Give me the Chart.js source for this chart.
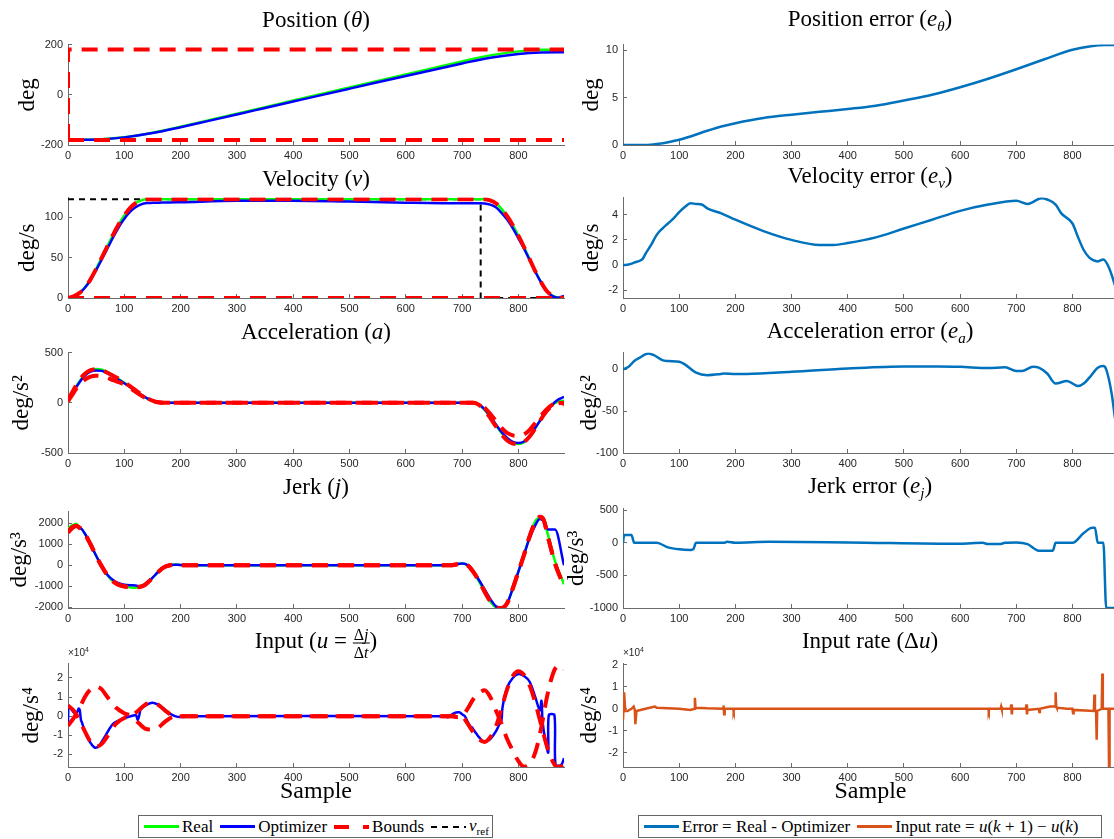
<!DOCTYPE html>
<html>
<head>
<meta charset="utf-8">
<script src="https://cdn.jsdelivr.net/npm/chart.js@4.4.0/dist/chart.umd.min.js"></script>
<style>
body { margin: 0; background: #fff; }
#fig { position: relative; width: 1114px; height: 839px; overflow: hidden; }
#fig canvas { position: absolute; }
.ttl { position: absolute; z-index: 2; transform: translate(-50%, -50%); white-space: nowrap;
       font: 23px "Liberation Serif", serif; color: #000; }
.ttl sub { font-size: 15px; vertical-align: -5px; }
.frac { display: inline-block; vertical-align: middle; text-align: center; font-size: 16px; line-height: 17px; }
.frac span { display: block; padding: 0 1px; }
.frac span:first-child { border-bottom: 1px solid #000; }
.exp { position: absolute; z-index: 2; font: 10px "Liberation Sans", sans-serif; color: #262626; }
.exp sup { font-size: 7px; }
.leg { position: absolute; z-index: 2; height: 23px; border: 1px solid #666; background: #fff; box-sizing: border-box;
       display: flex; align-items: center; padding: 0 0 0 5px;
       font: 17px "Liberation Serif", serif; white-space: nowrap; }
.leg .it { display: flex; align-items: center; margin-right: 7px; }
.leg .s { display: inline-block; width: 35px; height: 3px; margin-right: 3px; }
.leg sub { font-size: 11px; }
</style>
</head>
<body>
<div id="fig"></div>
<script>
// x axis (sample index)
const sampleTicks = [0, 100, 200, 300, 400, 500, 600, 700, 800];
const sampleMax = 881;

// ---------- Position (deg)
const posTicks = [-200, 0, 200];
const posReal = [[0,-180],[30,-179.5],[60,-177],[100,-169],[150,-151],[200,-127],[250,-101],[300,-75],[350,-49],[400,-23],[450,3],[500,29],[550,55],[600,81],[650,107],[700,133],[750,157],[800,173],[840,179],[881,180]];
const posOpt = [[0,-180],[30,-179.5],[60,-177.1],[100,-169.6],[150,-152.6],[200,-129.3],[250,-103.9],[300,-78.3],[350,-52.6],[400,-26.9],[450,-1.2],[500,24.3],[550,49.7],[600,74.9],[650,100],[700,125],[750,147.9],[800,162.9],[840,168.6],[881,169.5]];
const posUpper = [[0,-180],[0,180],[881,180]];
const posLower = [[0,-180],[881,-180]];

// ---------- Velocity (deg/s)
const velTicks = [0, 50, 100];
const velReal = [[0,0],[10,2],[20,6],[30,13],[40,23],[50,36],[60,50],[70,64],[80,78],[90,91],[100,102],[110,111],[120,117],[130,120.5],[140,122],[150,122],[160,122],[180,122],[200,122],[300,122],[400,122],[500,122],[600,122],[700,122],[720,122],[730,122],[740,122],[750,120.5],[760,117],[770,110],[780,101],[790,90],[800,77],[810,63],[820,48],[830,33],[840,20],[850,9],[860,3],[870,0.5],[881,0]];
const velOpt = [[0,0],[10,1.95],[20,5.8],[30,12.65],[40,22.1],[50,34.4],[60,47.6],[70,61.1],[80,74.7],[90,87.3],[100,97.8],[110,106.4],[120,112.1],[130,115.65],[140,117.2],[150,117.5],[160,117.7],[180,118.1],[200,118.4],[300,120],[400,120.25],[500,119.1],[600,117.7],[700,116.9],[720,117.15],[730,116.9],[740,116.7],[750,115.3],[760,112],[770,105.2],[780,96.9],[790,86.3],[800,73.7],[810,60.8],[820,46.8],[830,32.4],[840,19.65],[850,8.65],[860,2.6],[870,0.4],[881,2.5]];
const velUpper = [[0,0],[10,2],[20,6],[30,13],[40,23],[50,36],[60,50],[70,64],[80,78],[90,91],[100,102],[110,111],[120,117],[130,120.5],[140,122],[150,122],[200,122],[400,122],[600,122],[730,122],[740,122],[750,120.5],[760,117],[770,110],[780,101],[790,90],[800,77],[810,63],[820,48],[830,33],[840,20],[850,9],[860,3],[870,0.5],[881,0]];
const velLower = [[0,0],[881,0]];
const velRef = [[0,122],[733,122],[733,0],[881,0]];

// ---------- Acceleration (deg/s^2)
const accTicks = [-500, 0, 500];
const accX = [0,10,20,30,40,50,60,70,80,90,100,110,120,130,140,150,160,170,180,200,700,710,720,730,740,750,760,770,780,790,800,810,820,830,840,850,860,870,881];
const accRealY = [20,120,210,280,322,336,330,306,272,236,200,160,120,80,45,20,5,0,0,0,0,0,0,-20,-70,-142,-222,-300,-360,-400,-410,-393,-335,-252,-160,-80,-20,10,20];
const accOptY = [20,115,200,270,310,322,318,295,262,228,195,157,118,80,46,22,7,1,0,0,0,0,0,-18,-65,-135,-215,-290,-350,-390,-400,-385,-330,-250,-165,-85,-20,30,58];
const accUpperY = [30,130,225,290,325,335,325,300,270,240,205,165,125,85,48,22,6,1,0,0,0,0,0,-15,-50,-110,-180,-250,-300,-325,-330,-315,-270,-200,-130,-65,-20,-2,-15];
const accLowerY = [15,100,180,230,260,270,265,250,225,205,185,150,110,72,40,18,5,0,0,0,0,0,0,-20,-75,-150,-235,-315,-375,-405,-410,-390,-335,-255,-165,-85,-30,-5,0];

// ---------- Jerk (deg/s^3)
const jerkTicks = [-2000, -1000, 0, 1000, 2000];
const jerkX = [0,5,10,15,20,25,30,40,50,60,70,80,90,100,110,120,130,135,140,150,160,170,180,190,200,220,680,690,700,710,720,730,740,750,760,770,780,790,800,810,820,830,838,845,853,865,881];
const jerkOptY = [1700,1750,1800,1850,1800,1700,1500,1000,450,-50,-450,-700,-850,-920,-950,-960,-1000,-950,-850,-600,-320,-100,0,30,10,0,0,50,80,0,-300,-700,-1150,-1600,-1950,-2050,-1800,-1100,-300,500,1300,1900,2200,2100,1700,1700,0];
const jerkRealY = [1700,1870,1920,1970,1800,1700,1500,1000,450,-50,-480,-770,-930,-1020,-1050,-1070,-1000,-950,-850,-600,-320,-100,0,40,10,0,0,50,85,0,-320,-760,-1270,-1720,-2000,-2050,-1800,-1100,-300,500,1400,2100,2250,2100,1400,200,-900];
const jerkUpperY = [1600,1750,1850,1880,1800,1700,1500,1000,450,-50,-470,-760,-920,-1000,-1030,-1040,-1000,-950,-850,-600,-320,-100,0,30,10,0,0,50,85,0,-310,-740,-1250,-1700,-1990,-2030,-1800,-1100,-300,500,1380,2050,2300,2150,1300,100,-1000];
const jerkLowerY = [1550,1700,1820,1870,1780,1690,1490,990,440,-60,-480,-770,-930,-1010,-1040,-1050,-1010,-960,-860,-610,-330,-110,-10,20,0,0,0,40,75,-10,-320,-750,-1260,-1710,-2000,-2040,-1810,-1110,-310,490,1370,2040,2290,2140,1290,90,-1010];

// ---------- Input (deg/s^4, x10^4)
const inTicks = [-2, -1, 0, 1, 2];
const inOpt = [[0,-0.5],[1,0.5],[5,0.4],[10,0.2],[15,0.15],[19,0.4],[21,0.3],[23,-0.2],[25,-0.35],[30,-0.8],[40,-1.4],[48,-1.65],[55,-1.55],[65,-1.1],[80,-0.4],[100,-0.1],[118,0.05],[121,0.05],[124,-0.2],[127,0.1],[129,0.35],[140,0.6],[150,0.7],[160,0.6],[170,0.4],[180,0.15],[190,0],[200,-0.05],[220,0],[660,0],[670,0],[675,-0.05],[685,0.15],[695,0.2],[700,0.1],[705,0],[710,-0.3],[715,-0.55],[718,-0.6],[720,-0.7],[725,-0.9],[730,-1.1],[740,-1.35],[750,-1.2],[760,-0.8],[768,-0.3],[770,-0.2],[772,0.5],[780,1.5],[790,2.0],[800,2.2],[810,2.1],[820,1.8],[830,1.0],[838,0.3],[841,0.8],[843,-0.3],[848,-1.3],[853,-1.9],[854,0.05],[864,0.05],[866,-2.55],[876,-2.55],[881,-2.2]];
const inBoundA = [[0,0.55],[10,0.3],[20,-0.2],[30,-0.8],[40,-1.35],[50,-1.6],[60,-1.45],[70,-1.05],[85,-0.4],[100,-0.1],[112,0],[125,0.3],[137,0.6],[148,0.7],[160,0.6],[172,0.3],[185,0.05],[200,0],[680,0],[690,0.05],[700,0],[710,-0.4],[720,-0.85],[730,-1.2],[740,-1.35],[750,-1.1],[760,-0.55],[770,0.4],[780,1.4],[790,2.1],[800,2.35],[810,2.15],[820,1.6],[830,0.7],[840,-0.4],[850,-1.5],[860,-2.3],[868,-2.65],[875,-2.65],[881,-2.55]];
const inBoundB = [[0,-0.5],[10,-0.1],[20,0.4],[30,1.0],[40,1.4],[50,1.55],[60,1.4],[70,1.0],[85,0.45],[100,0.15],[112,0],[125,-0.35],[137,-0.65],[148,-0.7],[160,-0.6],[172,-0.3],[185,-0.05],[200,0],[680,0],[690,-0.05],[700,0],[710,0.4],[720,0.9],[730,1.2],[740,1.35],[750,1.0],[760,0.3],[770,-0.4],[780,-1.2],[790,-1.8],[800,-2.35],[810,-2.65],[820,-2.5],[830,-1.9],[840,-0.7],[850,0.9],[860,2.1],[868,2.6],[875,2.65],[881,2.45]];

// ---------- error column
const posErrTicks = [0, 5, 10];
const posErr = [[0,0],[40,0],[60,0.1],[80,0.3],[100,0.55],[120,0.9],[150,1.5],[175,1.95],[200,2.3],[250,2.85],[300,3.2],[350,3.5],[400,3.8],[450,4.15],[500,4.7],[550,5.3],[600,6.1],[650,7.0],[700,8.0],[750,9.05],[800,10.05],[830,10.4],[860,10.55],[881,10.55]];
const velErrTicks = [-2, 0, 2, 4];
const velErr = [[0,0],[10,0.05],[20,0.2],[30,0.35],[35,0.5],[40,0.9],[50,1.6],[60,2.4],[70,2.9],[80,3.3],[90,3.7],[100,4.2],[110,4.6],[120,4.9],[130,4.85],[140,4.8],[150,4.5],[175,4.1],[200,3.6],[250,2.7],[300,2.0],[350,1.6],[375,1.6],[400,1.75],[450,2.2],[500,2.9],[550,3.6],[600,4.3],[650,4.8],[700,5.1],[720,4.85],[745,5.3],[755,5.2],[770,4.8],[780,4.1],[800,3.3],[810,2.2],[820,1.2],[830,0.6],[845,0.3],[855,0.45],[865,-0.2],[875,-1.5],[881,-2.4]];
const accErrTicks = [-100, -50, 0];
const accErr = [[0,0],[10,3],[20,10],[30,14],[45,19],[55,17],[70,11],[80,10],[100,9],[110,6],[130,-4],[150,-7],[170,-6],[180,-5],[200,-5.5],[220,-5.5],[300,-3],[400,1],[500,3.5],[560,3.5],[600,3],[650,1.5],[680,2.5],[700,-2],[710,-2],[730,3],[740,2],[755,-5],[770,-17],[790,-14],[810,-20],[820,-17],[830,-10],[845,2],[855,4],[860,0],[870,-30],[875,-55],[881,-80]];
const jerkErrTicks = [-1000, -500, 0, 500];
const jerkErr = [[0,0],[2,120],[15,120],[20,0],[60,0],[80,-70],[100,-100],[120,-110],[125,-100],[130,0],[180,0],[185,15],[200,0],[260,15],[400,5],[600,-15],[640,0],[650,-20],[670,-20],[680,0],[700,5],[720,-20],[740,-120],[765,-120],[770,0],[800,0],[820,150],[835,230],[840,230],[845,0],[855,0],[860,-1000],[881,-1000]];
const rateTicks = [-2, -1, 0, 1, 2];
const inputRate = [[0,-0.5],[2,0.75],[4,-0.1],[8,-0.1],[15,0],[19,0.1],[21,-0.05],[22,-0.7],[24,-0.1],[40,0],[57,0.1],[60,0.05],[100,0],[120,-0.05],[127,0],[128,0.5],[129,0.05],[150,0.02],[178,0],[179,0.15],[180,-0.25],[181,0],[196,0],[197,-0.1],[198,0],[300,0],[650,0],[651,-0.1],[652,0],[672,0],[673,0.1],[674,0],[690,0],[691,0.2],[692,-0.25],[693,0],[717,0],[718,0.2],[719,-0.25],[720,-0.05],[740,0],[741,-0.15],[742,0],[760,0.1],[769,0.1],[770,0.75],[771,0.1],[772,0.05],[790,0],[800,0],[801,-0.2],[802,-0.05],[838,-0.1],[839,0.65],[840,-0.1],[842,-0.1],[843,-1.4],[844,-0.1],[852,0],[853,1.6],[854,0],[864,0],[865,-2.6],[866,0],[875,0]];

const SERIF = '"Liberation Serif", "Times New Roman", serif';
const AXIS = '#6b6b6b';
Chart.defaults.font.family = '"Liberation Sans", Arial, sans-serif';
Chart.defaults.font.size = 11;
Chart.defaults.color = '#262626';
Chart.defaults.animation = false;

const fig = document.getElementById('fig');

function pts(pairs) { return pairs.map(p => ({x: p[0], y: p[1]})); }
function zip(xs, ys) { return xs.map((x, i) => [x, ys[i]]); }

function line(pairs, color, width, order, extra) {
    return Object.assign({data: pts(pairs), borderColor: color, borderWidth: width, order: order,
        pointRadius: 0, fill: false, cubicInterpolationMode: 'monotone'}, extra || {});
}
const real = d => line(d, '#00ff00', 2.5, 2);
const opt = d => line(d, '#0000ff', 2.5, 1);
const bound = (d, straight) => line(d, '#ff0000', 4, 0, straight ? {borderDash: [16, 10], cubicInterpolationMode: 'default', tension: 0} : {borderDash: [16, 10]});
const vref = d => line(d, '#000000', 2, 3, {borderDash: [6, 5], cubicInterpolationMode: 'default', tension: 0});
const errLine = d => line(d, '#0072bd', 2.5, 0);
const rateLine = d => line(d, '#d95319', 2.5, 0, {cubicInterpolationMode: 'default', tension: 0});

function plot(o) {
    const padT = 10, padR = 4;
    const xH = o.sample ? 806 - o.b : 24;
    const cl = Math.round(o.titleX - 14);
    const axW = o.l - cl;
    const c = document.createElement('canvas');
    c.width = o.r - cl + padR;
    c.height = o.b - o.t + padT + xH;
    c.style.left = cl + 'px';
    c.style.top = (o.t - padT) + 'px';
    fig.appendChild(c);

    new Chart(c, {
        type: 'line',
        data: {datasets: o.datasets},
        options: {
            responsive: false,
            animation: false,
            layout: {padding: {top: padT, right: padR, left: 0, bottom: 0}},
            plugins: {legend: {display: false}, tooltip: {enabled: false}},
            scales: {
                x: {
                    type: 'linear', min: 0, max: sampleMax,
                    afterFit: s => { s.height = xH; },
                    afterBuildTicks: s => { s.ticks = sampleTicks.map(v => ({value: v})); },
                    grid: {drawOnChartArea: false, tickLength: -4, color: AXIS},
                    border: {color: AXIS},
                    ticks: {padding: 8, maxRotation: 0, autoSkip: false, callback: v => String(v)},
                    title: {display: !!o.sample, text: 'Sample', color: '#000', padding: 0,
                        font: {family: SERIF, size: 24}}
                },
                y: {
                    type: 'linear', min: o.yMin, max: o.yMax,
                    afterFit: s => { s.width = axW; },
                    afterBuildTicks: s => { s.ticks = o.yTicks.map(v => ({value: v})); },
                    grid: {drawOnChartArea: false, tickLength: -4, color: AXIS},
                    border: {color: AXIS},
                    ticks: {padding: 9, autoSkip: false, callback: v => String(v)},
                    title: {display: true, text: o.yTitle, color: '#000', padding: 0,
                        font: {family: SERIF, size: 23}}
                }
            }
        }
    });
}

const L = {l: 68, r: 564};
const R = {l: 623, r: 1118};

// left column
plot({...L, t: 39, b: 145, titleX: 28, yMin: -200, yMax: 200, yTicks: posTicks, yTitle: 'deg',
    datasets: [bound(posUpper, true), bound(posLower, true), opt(posOpt), real(posReal)]});
plot({...L, t: 192, b: 298, titleX: 28, yMin: 0, yMax: 124, yTicks: velTicks, yTitle: 'deg/s',
    datasets: [bound(velUpper), bound(velLower, true), opt(velOpt), real(velReal), vref(velRef)]});
plot({...L, t: 347, b: 453, titleX: 22, yMin: -500, yMax: 500, yTicks: accTicks, yTitle: 'deg/s²',
    datasets: [bound(zip(accX, accUpperY)), bound(zip(accX, accLowerY)), opt(zip(accX, accOptY)), real(zip(accX, accRealY))]});
plot({...L, t: 506, b: 608, titleX: 20, yMin: -2030, yMax: 2550, yTicks: jerkTicks, yTitle: 'deg/s³',
    datasets: [bound(zip(jerkX, jerkUpperY)), bound(zip(jerkX, jerkLowerY)), opt(zip(jerkX, jerkOptY)), real(zip(jerkX, jerkRealY))]});
plot({...L, t: 658, b: 767, titleX: 32, yMin: -2.66, yMax: 2.75, yTicks: inTicks, yTitle: 'deg/s⁴', sample: true,
    datasets: [bound(inBoundA), bound(inBoundB), line(inOpt, '#0000ff', 2.5, 1, {cubicInterpolationMode: 'default', tension: 0.3})]});

// right column
plot({...R, t: 39, b: 145, titleX: 592, yMin: 0, yMax: 10.6, yTicks: posErrTicks, yTitle: 'deg',
    datasets: [errLine(posErr)]});
plot({...R, t: 192, b: 298, titleX: 592, yMin: -2.6, yMax: 5.35, yTicks: velErrTicks, yTitle: 'deg/s',
    datasets: [errLine(velErr)]});
plot({...R, t: 347, b: 453, titleX: 590, yMin: -100, yMax: 20, yTicks: accErrTicks, yTitle: 'deg/s²',
    datasets: [errLine(accErr)]});
plot({...R, t: 503, b: 608, titleX: 577, yMin: -1000, yMax: 525, yTicks: jerkErrTicks, yTitle: 'deg/s³',
    datasets: [errLine(jerkErr)]});
plot({...R, t: 658, b: 767, titleX: 590, yMin: -2.64, yMax: 2.05, yTicks: rateTicks, yTitle: 'deg/s⁴', sample: true,
    datasets: [rateLine(inputRate)]});

// titles and annotations
const titles = [
    [316, 20, 'Position (<i>θ</i>)'],
    [316, 179, 'Velocity (<i>v</i>)'],
    [316, 332, 'Acceleration (<i>a</i>)'],
    [316, 487, 'Jerk (<i>j</i>)'],
    [316, 643, 'Input (<i>u</i> = <span class="frac"><span>Δ<i>j</i></span><span>Δ<i>t</i></span></span>)'],
    [870, 20, 'Position error (<i>e</i><sub><i>θ</i></sub>)'],
    [870, 177, 'Velocity error (<i>e</i><sub><i>v</i></sub>)'],
    [870, 332, 'Acceleration error (<i>e</i><sub><i>a</i></sub>)'],
    [870, 487, 'Jerk error (<i>e</i><sub><i>j</i></sub>)'],
    [870, 641, 'Input rate (Δ<i>u</i>)']
];
titles.forEach(([x, y, html]) => {
    const d = document.createElement('div');
    d.className = 'ttl';
    d.style.left = x + 'px';
    d.style.top = y + 'px';
    d.innerHTML = html;
    fig.appendChild(d);
});
[[68, 646], [623, 646]].forEach(([x, y]) => {
    const d = document.createElement('div');
    d.className = 'exp';
    d.style.left = x + 'px';
    d.style.top = y + 'px';
    d.innerHTML = '×10<sup>4</sup>';
    fig.appendChild(d);
});

// legends
const legL = document.createElement('div');
legL.className = 'leg';
legL.style.cssText = 'left:138px;top:815px;width:355px;';
legL.innerHTML =
    '<span class="it"><span class="s" style="background:#00ff00"></span>Real</span>' +
    '<span class="it"><span class="s" style="background:#0000ff"></span>Optimizer</span>' +
    '<span class="it"><span class="s" style="height:4px;background:linear-gradient(90deg,#ff0000 0 15px,transparent 15px 29px,#ff0000 29px 35px)"></span>Bounds</span>' +
    '<span class="it"><span class="s" style="height:2px;background:repeating-linear-gradient(90deg,#000 0 6px,transparent 6px 11px)"></span><span><i>v</i><sub>ref</sub></span></span>';
fig.appendChild(legL);

const legR = document.createElement('div');
legR.className = 'leg';
legR.style.cssText = 'left:638px;top:815px;width:464px;';
legR.innerHTML =
    '<span class="it"><span class="s" style="background:#0072bd"></span>Error = Real - Optimizer</span>' +
    '<span class="it"><span class="s" style="background:#d95319"></span><span>Input rate = <i>u</i>(<i>k</i> + 1) − <i>u</i>(<i>k</i>)</span></span>';
fig.appendChild(legR);
</script>
</body>
</html>
